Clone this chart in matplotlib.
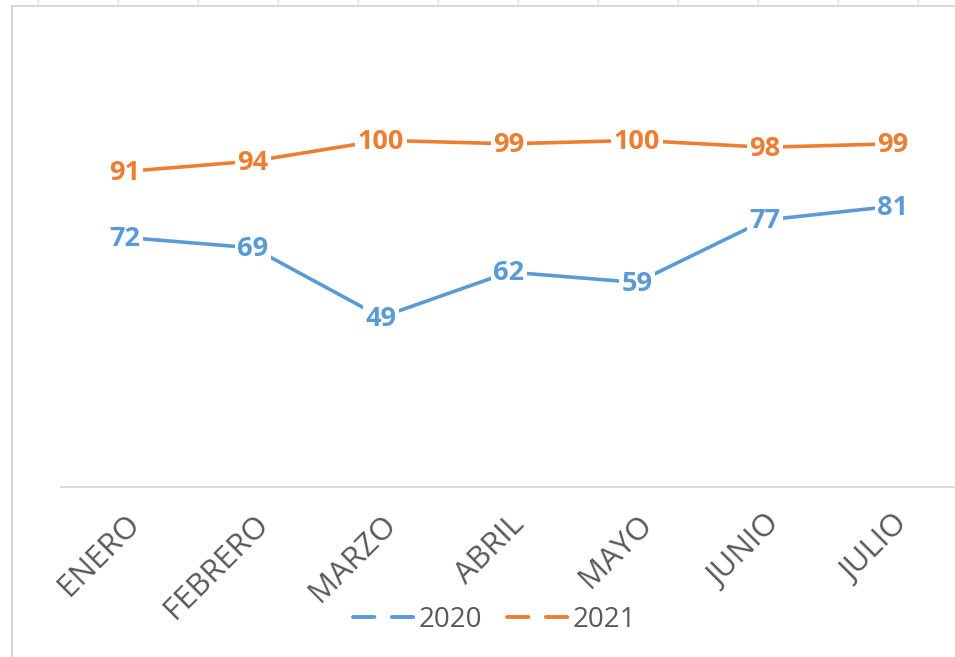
import matplotlib.pyplot as plt
from matplotlib.lines import Line2D

months = ['ENERO', 'FEBRERO', 'MARZO', 'ABRIL', 'MAYO', 'JUNIO', 'JULIO']
values_2020 = [72, 69, 49, 62, 59, 77, 81]
values_2021 = [91, 94, 100, 99, 100, 98, 99]

blue = '#5B9BD5'
orange = '#ED7D31'
gray_text = '#595959'

W, H = 955, 657
fig = plt.figure(figsize=(W / 100, H / 100), dpi=100)

# plot area: x from 61px to 957px, y=0 at 487px, y=120 at 71px
ax = fig.add_axes([61 / W, (H - 487) / H, 896 / W, 416 / H])
x = list(range(len(months)))

for vals, col in [(values_2020, blue), (values_2021, orange)]:
    ax.plot(x, vals, color=col, lw=2.6, solid_capstyle='round', zorder=2)
    for xi, v in zip(x, vals):
        ax.text(xi, v - 0.4, str(v), color=col, fontsize=19.5, fontweight='bold',
                family='Open Sans', ha='center', va='center', zorder=3,
                bbox=dict(boxstyle='square,pad=0.1', fc='white', ec='none'))

ax.set_xlim(-0.5, 6.5)
ax.set_ylim(0, 120)
for s in ['top', 'right', 'left']:
    ax.spines[s].set_visible(False)
ax.spines['bottom'].set_color('#D9D9D9')
ax.spines['bottom'].set_linewidth(1.3)
ax.set_yticks([])
ax.set_xticks(x)
ax.set_xticklabels(months, rotation=45, ha='right', rotation_mode='anchor',
                   fontsize=22.5, color=gray_text, family='Open Sans')
ax.tick_params(axis='x', length=0, pad=16)

handles = [Line2D([], [], color=blue, lw=2.8, dashes=(5.5, 4.5), dash_capstyle='round'),
           Line2D([], [], color=orange, lw=2.8, dashes=(5.5, 4.5), dash_capstyle='round')]
fig.legend(handles, ['2020', '2021'], loc='center', bbox_to_anchor=(0.518, 0.056),
           ncol=2, frameon=False, handlelength=2.2, handletextpad=0.15,
           columnspacing=0.9, prop={'family': 'Open Sans', 'size': 20},
           labelcolor=gray_text)

# chart border and spreadsheet cell lines above it
def px_line(xs, ys, **kw):
    fig.add_artist(Line2D([a / W for a in xs], [1 - b / H for b in ys],
                          transform=fig.transFigure, **kw))

px_line([12, W], [6, 6], color='#D0D0D0', lw=1.2)
px_line([12, 12], [6, H], color='#D0D0D0', lw=1.2)
for cx in range(38, W, 80):
    px_line([cx, cx], [0, 5], color='#E0E0E0', lw=1.0)

fig.savefig('out.png', dpi=100)
